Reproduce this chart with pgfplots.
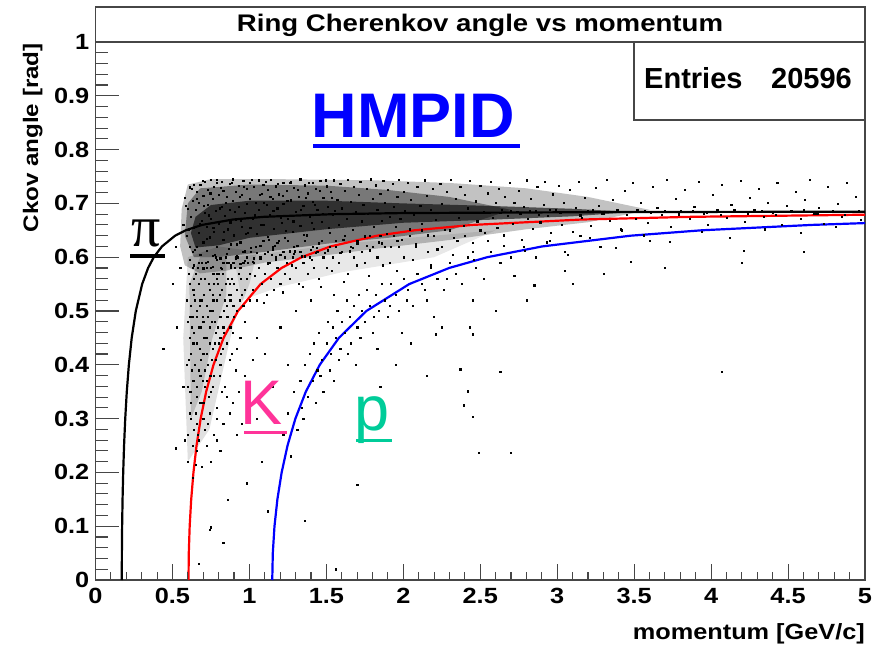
\documentclass[border=0pt]{standalone}
\usepackage{pgfplots}
\pgfplotsset{compat=1.18}
\usepackage{fontspec}
\setmainfont{Liberation Sans}
\newfontfamily\axfont[FakeStretch=1.15]{Liberation Sans}
\newfontfamily\seriffont{Liberation Serif}
\definecolor{kpink}{RGB}{255,51,153}
\definecolor{pteal}{RGB}{0,204,153}
\definecolor{framec}{RGB}{70,70,70}
\begin{document}
\begin{tikzpicture}
\path[use as bounding box] (0pt,0pt) rectangle (872pt,648pt);
\begin{axis}[
  at={(95.5pt,68pt)}, anchor=south west,
  scale only axis, width=769.5pt, height=538pt,
  xmin=0, xmax=5, ymin=0, ymax=1,
  axis line style={draw=framec, line width=1.3pt},
  tick align=inside, tick pos=left,
  xtick=\empty,
  ytick={0,0.1,0.2,0.3,0.4,0.5,0.6,0.7,0.8,0.9,1},
  minor y tick num=4,
  major tick length=23pt, minor tick length=12pt,
  tick style={draw=framec, line width=1.1pt},
  yticklabel style={font=\axfont\bfseries\fontsize{22}{26}\selectfont, inner sep=0pt, xshift=-6pt,
    /pgf/number format/.cd, fixed, precision=1, assume math mode=true},
  clip=true,
]
% density of the entries (shaded regions)
\addplot[fill=black, fill opacity=0.09, draw=none] coordinates {
 (0.90,0.60) (1.20,0.61) (1.60,0.625) (2.20,0.64) (2.60,0.65) (2.20,0.60) (1.60,0.572) (1.20,0.545) (0.95,0.52)} -- cycle;
\addplot[fill=black, fill opacity=0.12, draw=none] coordinates {
 (0.60,0.22) (0.57,0.45) (0.60,0.60) (0.80,0.62) (1.05,0.61) (1.00,0.55) (0.90,0.48) (0.82,0.38) (0.74,0.28)} -- cycle;
\addplot[fill=black, fill opacity=0.16, draw=none] coordinates {
 (0.62,0.30) (0.61,0.55) (0.68,0.60) (0.85,0.60) (0.85,0.53) (0.76,0.45) (0.69,0.35)} -- cycle;
\addplot[fill=black, fill opacity=0.24, draw=none] coordinates {
 (0.55,0.62) (0.56,0.69) (0.60,0.735) (0.75,0.745) (1.20,0.745) (1.80,0.743) (2.30,0.738) (2.80,0.728) (3.20,0.712) (3.60,0.688) (3.20,0.665) (2.80,0.652) (2.30,0.632) (1.80,0.615) (1.40,0.60) (1.10,0.59) (0.85,0.575) (0.68,0.57) (0.58,0.585)} -- cycle;
\addplot[fill=black, fill opacity=0.38, draw=none] coordinates {
 (0.58,0.64) (0.60,0.70) (0.68,0.728) (1.00,0.735) (1.50,0.733) (1.90,0.725) (2.30,0.712) (2.70,0.688) (2.30,0.650) (1.90,0.636) (1.50,0.625) (1.10,0.61) (0.80,0.60) (0.64,0.60)} -- cycle;
\addplot[fill=black, fill opacity=0.60, draw=none] coordinates {
 (0.62,0.645) (0.65,0.675) (0.75,0.697) (1.00,0.705) (1.50,0.705) (2.00,0.700) (2.60,0.695) (3.10,0.690) (3.50,0.684) (3.10,0.676) (2.60,0.670) (2.00,0.664) (1.50,0.652) (1.00,0.636) (0.80,0.622) (0.65,0.618)} -- cycle;
% scattered entries
\addplot[only marks, mark=square*, mark size=0.6pt, mark options={draw=none, fill=black}] table[row sep=\\] {
0.57 0.66\\ 0.58 0.71\\ 0.59 0.64\\ 0.60 0.69\\ 0.61 0.73\\ 0.61 0.62\\ 0.62 0.675\\ 0.63 0.705\\ 0.63 0.61\\ 0.64 0.735\\ 0.64 0.655\\ 0.65 0.688\\ 0.66 0.62\\ 0.66 0.722\\ 0.67 0.645\\ 0.67 0.701\\ 0.68 0.735\\ 0.68 0.605\\ 0.69 0.668\\ 0.70 0.715\\
0.70 0.628\\ 0.71 0.741\\ 0.71 0.683\\ 0.72 0.612\\ 0.72 0.656\\ 0.73 0.726\\ 0.73 0.697\\ 0.74 0.637\\ 0.75 0.744\\ 0.75 0.671\\ 0.76 0.603\\ 0.76 0.709\\ 0.77 0.648\\ 0.77 0.731\\ 0.78 0.686\\ 0.79 0.619\\ 0.79 0.739\\ 0.80 0.662\\ 0.80 0.716\\ 0.81 0.598\\
0.82 0.694\\ 0.82 0.741\\ 0.83 0.633\\ 0.83 0.724\\ 0.84 0.677\\ 0.85 0.607\\ 0.85 0.712\\ 0.86 0.652\\ 0.87 0.737\\ 0.87 0.688\\ 0.88 0.624\\ 0.89 0.705\\ 0.89 0.745\\ 0.90 0.641\\ 0.91 0.721\\ 0.91 0.669\\ 0.92 0.602\\ 0.93 0.733\\ 0.93 0.694\\ 0.94 0.628\\
0.95 0.716\\ 0.95 0.657\\ 0.96 0.742\\ 0.97 0.611\\ 0.97 0.683\\ 0.98 0.727\\ 0.99 0.646\\ 1.00 0.709\\ 1.00 0.739\\ 1.01 0.618\\ 1.02 0.672\\ 1.03 0.731\\ 1.03 0.598\\ 1.04 0.701\\ 1.05 0.644\\ 1.06 0.743\\ 1.06 0.689\\ 1.07 0.622\\ 1.08 0.718\\ 1.09 0.661\\
1.09 0.735\\ 1.10 0.606\\ 1.11 0.697\\ 1.12 0.726\\ 1.12 0.638\\ 1.13 0.679\\ 1.14 0.744\\ 1.15 0.615\\ 1.15 0.708\\ 1.16 0.653\\ 1.17 0.732\\ 1.18 0.691\\ 1.18 0.627\\ 1.19 0.717\\ 1.20 0.604\\ 1.21 0.664\\ 1.22 0.739\\ 1.22 0.699\\ 1.23 0.636\\ 1.24 0.724\\
1.25 0.672\\ 1.26 0.611\\ 1.27 0.741\\ 1.27 0.706\\ 1.28 0.648\\ 1.29 0.729\\ 1.30 0.684\\ 1.31 0.621\\ 1.32 0.713\\ 1.33 0.745\\ 1.33 0.658\\ 1.34 0.602\\ 1.35 0.695\\ 1.36 0.734\\ 1.37 0.641\\ 1.38 0.719\\ 1.39 0.676\\ 1.40 0.614\\ 1.41 0.738\\ 1.41 0.703\\
1.42 0.653\\ 1.43 0.727\\ 1.44 0.688\\ 1.45 0.626\\ 1.46 0.742\\ 1.47 0.666\\ 1.48 0.711\\ 1.49 0.608\\ 1.50 0.732\\ 1.51 0.694\\ 1.52 0.645\\ 1.53 0.721\\ 1.54 0.679\\ 1.55 0.743\\ 1.56 0.619\\ 1.57 0.707\\ 1.58 0.661\\ 1.59 0.736\\ 1.60 0.691\\ 1.61 0.632\\
1.62 0.723\\ 1.63 0.672\\ 1.64 0.744\\ 1.65 0.611\\ 1.66 0.703\\ 1.67 0.651\\ 1.68 0.731\\ 1.69 0.684\\ 1.70 0.626\\ 1.71 0.716\\ 1.72 0.741\\ 1.73 0.667\\ 1.74 0.698\\ 1.75 0.639\\ 1.76 0.728\\ 1.77 0.681\\ 1.78 0.613\\ 1.79 0.745\\ 1.80 0.709\\ 1.81 0.656\\
1.82 0.734\\ 1.83 0.689\\ 1.84 0.628\\ 1.85 0.718\\ 1.86 0.668\\ 1.87 0.742\\ 1.88 0.701\\ 1.89 0.644\\ 1.90 0.726\\ 1.91 0.676\\ 1.92 0.619\\ 1.93 0.737\\ 1.94 0.694\\ 1.95 0.657\\ 1.96 0.713\\ 1.97 0.744\\ 1.98 0.671\\ 1.99 0.633\\ 2.00 0.722\\ 2.01 0.686\\
2.03 0.739\\ 2.04 0.652\\ 2.05 0.707\\ 2.07 0.679\\ 2.08 0.624\\ 2.09 0.731\\ 2.11 0.696\\ 2.12 0.662\\ 2.14 0.743\\ 2.15 0.714\\ 2.16 0.641\\ 2.18 0.688\\ 2.19 0.727\\ 2.21 0.669\\ 2.22 0.615\\ 2.24 0.736\\ 2.25 0.699\\ 2.27 0.651\\ 2.28 0.721\\ 2.30 0.682\\
2.31 0.744\\ 2.33 0.636\\ 2.34 0.708\\ 2.36 0.673\\ 2.37 0.731\\ 2.39 0.658\\ 2.40 0.716\\ 2.42 0.691\\ 2.43 0.742\\ 2.45 0.627\\ 2.47 0.704\\ 2.48 0.667\\ 2.50 0.733\\ 2.52 0.685\\ 2.53 0.646\\ 2.55 0.719\\ 2.57 0.741\\ 2.58 0.674\\ 2.60 0.702\\
0.585 0.695\\ 0.605 0.652\\ 0.625 0.728\\ 0.645 0.614\\ 0.655 0.709\\ 0.675 0.663\\ 0.695 0.742\\ 0.705 0.695\\ 0.725 0.634\\ 0.735 0.678\\ 0.745 0.719\\ 0.765 0.655\\ 0.775 0.604\\ 0.785 0.744\\ 0.805 0.691\\ 0.815 0.729\\ 0.835 0.647\\ 0.845 0.702\\ 0.865 0.616\\ 0.875 0.665\\
0.885 0.738\\ 0.905 0.685\\ 0.915 0.624\\ 0.935 0.712\\ 0.945 0.668\\ 0.965 0.731\\ 0.975 0.643\\ 0.985 0.699\\ 1.005 0.655\\ 1.015 0.744\\ 1.035 0.678\\ 1.045 0.609\\ 1.065 0.716\\ 1.075 0.661\\ 1.095 0.702\\ 1.105 0.741\\ 1.125 0.633\\ 1.135 0.712\\ 1.155 0.686\\ 1.165 0.621\\
1.185 0.736\\ 1.205 0.674\\ 1.215 0.714\\ 1.235 0.649\\ 1.245 0.705\\ 1.265 0.738\\ 1.285 0.667\\ 1.295 0.611\\ 1.315 0.726\\ 1.335 0.688\\ 1.355 0.642\\ 1.365 0.711\\ 1.385 0.739\\ 1.405 0.664\\ 1.425 0.698\\ 1.435 0.618\\ 1.455 0.724\\ 1.475 0.681\\ 1.495 0.743\\ 1.515 0.655\\
1.535 0.711\\ 1.555 0.686\\
2.61 0.655\\ 2.62 0.728\\ 2.64 0.689\\ 2.65 0.641\\ 2.66 0.712\\ 2.68 0.677\\ 2.69 0.739\\ 2.71 0.662\\ 2.72 0.701\\ 2.74 0.684\\ 2.75 0.724\\ 2.77 0.632\\ 2.78 0.694\\ 2.80 0.743\\ 2.81 0.671\\ 2.83 0.709\\ 2.84 0.653\\ 2.86 0.686\\ 2.87 0.731\\ 2.89 0.665\\
2.91 0.698\\ 2.92 0.741\\ 2.94 0.677\\ 2.96 0.645\\ 2.97 0.717\\ 2.99 0.689\\ 3.01 0.733\\ 3.03 0.661\\ 3.04 0.702\\ 3.06 0.684\\ 3.08 0.726\\ 3.10 0.648\\ 3.12 0.692\\ 3.14 0.741\\ 3.16 0.674\\ 3.18 0.711\\ 3.20 0.686\\ 3.22 0.659\\ 3.25 0.729\\ 3.27 0.696\\
3.29 0.681\\ 3.32 0.744\\ 3.34 0.668\\ 3.36 0.707\\ 3.39 0.688\\ 3.41 0.652\\ 3.44 0.723\\ 3.46 0.684\\ 3.49 0.738\\ 3.51 0.671\\ 3.54 0.701\\ 3.57 0.686\\ 3.59 0.664\\ 3.62 0.731\\ 3.65 0.692\\ 3.68 0.679\\ 3.71 0.744\\ 3.74 0.657\\ 3.77 0.709\\ 3.80 0.687\\
3.83 0.726\\ 3.86 0.672\\ 3.89 0.694\\ 3.92 0.741\\ 3.95 0.681\\ 3.98 0.661\\ 4.01 0.716\\ 4.04 0.689\\ 4.07 0.735\\ 4.10 0.674\\ 4.13 0.698\\ 4.16 0.685\\ 4.19 0.742\\ 4.22 0.666\\ 4.25 0.711\\ 4.28 0.688\\ 4.31 0.727\\ 4.34 0.676\\ 4.37 0.702\\ 4.40 0.683\\
4.43 0.739\\ 4.46 0.661\\ 4.49 0.696\\ 4.52 0.686\\ 4.55 0.721\\ 4.58 0.671\\ 4.61 0.707\\ 4.64 0.744\\ 4.67 0.681\\ 4.70 0.692\\ 4.73 0.663\\ 4.76 0.731\\ 4.79 0.687\\ 4.82 0.699\\ 4.85 0.676\\ 4.88 0.738\\ 4.91 0.684\\ 4.94 0.712\\ 4.97 0.669\\
2.63 0.683\\ 2.70 0.687\\ 2.76 0.681\\ 2.82 0.686\\ 2.88 0.679\\ 2.95 0.688\\ 3.02 0.682\\ 3.09 0.685\\ 3.15 0.678\\ 3.23 0.689\\ 3.30 0.681\\ 3.37 0.684\\ 3.45 0.679\\ 3.52 0.688\\ 3.61 0.682\\ 3.70 0.686\\ 3.79 0.680\\ 3.88 0.687\\ 3.97 0.683\\ 4.06 0.679\\
4.15 0.688\\ 4.24 0.681\\ 4.33 0.686\\ 4.42 0.679\\ 4.51 0.684\\ 4.60 0.688\\ 4.69 0.681\\ 4.78 0.685\\ 4.87 0.679\\ 4.96 0.687\\
2.65 0.622\\ 2.79 0.612\\ 2.93 0.628\\ 3.07 0.605\\ 3.21 0.636\\ 3.38 0.618\\ 3.56 0.641\\ 3.73 0.629\\ 3.94 0.647\\ 4.12 0.636\\ 4.35 0.652\\ 4.58 0.645\\ 4.81 0.657\\ 3.05 0.575\\ 2.72 0.565\\ 3.48 0.592\\ 4.21 0.612\\ 2.85 0.548\\
0.60 0.48\\ 0.61 0.55\\ 0.62 0.42\\ 0.62 0.51\\ 0.63 0.58\\ 0.63 0.37\\ 0.64 0.46\\ 0.64 0.53\\ 0.65 0.31\\ 0.65 0.57\\ 0.66 0.44\\ 0.66 0.50\\ 0.67 0.39\\ 0.67 0.55\\ 0.68 0.47\\ 0.68 0.33\\ 0.69 0.52\\ 0.69 0.59\\ 0.70 0.42\\ 0.70 0.48\\
0.71 0.36\\ 0.71 0.56\\ 0.72 0.45\\ 0.72 0.51\\ 0.73 0.29\\ 0.73 0.40\\ 0.74 0.54\\ 0.74 0.47\\ 0.75 0.58\\ 0.75 0.35\\ 0.76 0.43\\ 0.76 0.50\\ 0.77 0.55\\ 0.77 0.38\\ 0.78 0.46\\ 0.78 0.60\\ 0.79 0.52\\ 0.79 0.32\\ 0.80 0.44\\ 0.80 0.57\\
0.81 0.49\\ 0.81 0.40\\ 0.82 0.54\\ 0.83 0.47\\ 0.83 0.59\\ 0.84 0.36\\ 0.84 0.52\\ 0.85 0.44\\ 0.86 0.56\\ 0.86 0.49\\ 0.87 0.41\\ 0.88 0.58\\ 0.88 0.53\\ 0.89 0.46\\ 0.90 0.55\\ 0.91 0.39\\ 0.91 0.60\\ 0.92 0.50\\ 0.93 0.57\\ 0.94 0.45\\
0.95 0.53\\ 0.96 0.59\\ 0.97 0.48\\ 0.98 0.56\\ 1.00 0.52\\ 0.605 0.41\\ 0.615 0.35\\ 0.625 0.47\\ 0.635 0.54\\ 0.645 0.40\\ 0.655 0.49\\ 0.665 0.27\\ 0.675 0.43\\ 0.685 0.56\\ 0.695 0.37\\ 0.705 0.53\\ 0.715 0.45\\ 0.725 0.58\\ 0.735 0.34\\ 0.745 0.50\\
0.755 0.41\\ 0.765 0.57\\ 0.775 0.48\\ 0.785 0.30\\ 0.795 0.55\\ 0.805 0.38\\ 0.815 0.58\\ 0.825 0.43\\ 0.835 0.50\\ 0.845 0.60\\ 0.855 0.34\\ 0.865 0.53\\ 0.875 0.47\\ 0.885 0.42\\ 0.895 0.59\\ 0.59 0.52\\ 0.60 0.36\\ 0.61 0.45\\ 0.62 0.30\\ 0.63 0.49\\
0.64 0.56\\ 0.66 0.34\\ 0.67 0.47\\ 0.68 0.52\\ 0.70 0.58\\ 0.71 0.39\\ 0.73 0.49\\ 0.74 0.44\\ 0.76 0.53\\ 0.78 0.41\\ 0.79 0.57\\ 0.81 0.45\\ 0.82 0.35\\ 0.85 0.51\\ 0.87 0.55\\ 0.90 0.49\\ 0.92 0.43\\ 0.94 0.58\\ 0.97 0.54\\ 0.99 0.59\\
0.58 0.26\\ 0.60 0.22\\ 0.63 0.19\\ 0.66 0.24\\ 0.69 0.21\\ 0.72 0.25\\ 0.75 0.22\\ 0.79 0.26\\ 0.83 0.29\\ 0.87 0.31\\ 0.93 0.35\\ 0.97 0.38\\ 1.02 0.41\\ 0.64 0.28\\ 0.70 0.30\\ 0.77 0.27\\ 0.61 0.31\\ 0.89 0.33\\ 0.95 0.29\\ 0.81 0.24\\
0.605 0.57\\ 0.615 0.49\\ 0.625 0.39\\ 0.635 0.44\\ 0.645 0.52\\ 0.655 0.36\\ 0.665 0.58\\ 0.675 0.51\\ 0.685 0.41\\ 0.695 0.49\\ 0.705 0.45\\ 0.715 0.59\\ 0.725 0.42\\ 0.735 0.55\\ 0.745 0.38\\ 0.755 0.48\\ 0.765 0.52\\ 0.775 0.44\\ 0.785 0.56\\ 0.795 0.47\\
0.805 0.53\\ 0.815 0.42\\ 0.825 0.57\\ 0.835 0.46\\ 0.845 0.55\\ 0.855 0.49\\ 0.865 0.59\\ 0.875 0.52\\ 0.885 0.56\\ 0.895 0.51\\ 0.905 0.58\\ 0.915 0.54\\ 0.925 0.60\\ 0.935 0.52\\ 0.945 0.56\\ 0.955 0.61\\ 0.62 0.33\\ 0.64 0.37\\ 0.66 0.29\\ 0.68 0.38\\
0.70 0.33\\ 0.72 0.37\\ 0.74 0.31\\ 0.76 0.36\\ 0.63 0.25\\ 0.67 0.26\\ 0.71 0.28\\ 0.65 0.215\\ 0.60 0.27\\ 0.59 0.40\\
0.61 0.595\\ 0.64 0.585\\ 0.67 0.59\\ 0.70 0.578\\ 0.73 0.592\\ 0.76 0.583\\ 0.79 0.596\\ 0.82 0.579\\ 0.85 0.59\\ 0.88 0.585\\ 0.91 0.597\\ 0.94 0.588\\ 0.97 0.594\\ 1.02 0.592\\ 1.07 0.597\\ 1.12 0.589\\ 1.17 0.595\\ 1.23 0.60\\ 1.29 0.606\\ 1.36 0.602\\
1.43 0.608\\ 1.51 0.613\\ 1.59 0.609\\ 1.67 0.617\\ 1.76 0.622\\ 1.86 0.626\\ 1.96 0.63\\
1.00 0.57\\ 1.01 0.61\\ 1.02 0.54\\ 1.03 0.59\\ 1.04 0.62\\ 1.05 0.52\\ 1.06 0.58\\ 1.07 0.60\\ 1.08 0.55\\ 1.09 0.63\\ 1.10 0.57\\ 1.11 0.53\\ 1.12 0.61\\ 1.13 0.59\\ 1.14 0.56\\ 1.15 0.62\\ 1.16 0.54\\ 1.17 0.60\\ 1.18 0.58\\ 1.19 0.63\\
1.20 0.55\\ 1.22 0.61\\ 1.23 0.57\\ 1.24 0.59\\ 1.25 0.63\\ 1.26 0.56\\ 1.28 0.60\\ 1.29 0.62\\ 1.30 0.58\\ 1.32 0.55\\ 1.33 0.61\\ 1.35 0.59\\ 1.36 0.63\\ 1.38 0.57\\ 1.39 0.60\\ 1.41 0.62\\ 1.42 0.58\\ 1.44 0.61\\ 1.45 0.56\\ 1.47 0.63\\
1.48 0.60\\ 1.50 0.58\\ 1.52 0.62\\ 1.54 0.60\\ 1.56 0.63\\ 1.58 0.59\\ 1.60 0.61\\ 1.62 0.64\\ 1.64 0.57\\ 1.66 0.62\\ 1.68 0.60\\ 1.70 0.63\\ 1.73 0.61\\ 1.75 0.59\\ 1.78 0.64\\ 1.80 0.62\\ 1.83 0.60\\ 1.85 0.64\\ 1.88 0.62\\ 1.91 0.59\\
1.94 0.64\\ 1.97 0.62\\ 2.00 0.60\\ 2.04 0.64\\ 2.08 0.62\\ 2.12 0.65\\ 2.16 0.61\\ 2.20 0.64\\ 2.25 0.62\\ 2.30 0.65\\ 2.35 0.63\\ 2.40 0.64\\ 2.45 0.61\\ 2.50 0.65\\ 2.55 0.63\\ 0.96 0.51\\ 0.98 0.60\\ 1.035 0.565\\ 1.095 0.515\\ 1.145 0.605\\
1.215 0.535\\ 1.275 0.585\\ 1.345 0.545\\ 1.405 0.595\\ 1.465 0.545\\ 1.535 0.575\\ 1.615 0.555\\ 1.695 0.585\\ 1.775 0.565\\ 1.865 0.585\\ 1.955 0.575\\ 2.06 0.595\\ 2.18 0.585\\ 2.32 0.605\\ 2.46 0.595\\
1.22 0.27\\ 1.25 0.31\\ 1.27 0.23\\ 1.29 0.35\\ 1.31 0.28\\ 1.33 0.37\\ 1.34 0.32\\ 1.36 0.40\\ 1.38 0.34\\ 1.39 0.42\\ 1.41 0.37\\ 1.42 0.44\\ 1.44 0.39\\ 1.45 0.46\\ 1.47 0.41\\ 1.48 0.35\\ 1.50 0.44\\ 1.51 0.48\\ 1.53 0.42\\ 1.54 0.47\\
1.56 0.45\\ 1.57 0.50\\ 1.59 0.43\\ 1.60 0.48\\ 1.62 0.46\\ 1.63 0.52\\ 1.65 0.49\\ 1.66 0.44\\ 1.68 0.51\\ 1.70 0.47\\ 1.71 0.53\\ 1.73 0.50\\ 1.75 0.48\\ 1.76 0.54\\ 1.78 0.51\\ 1.80 0.46\\ 1.82 0.53\\ 1.84 0.50\\ 1.86 0.55\\ 1.88 0.52\\
1.90 0.49\\ 1.92 0.55\\ 1.95 0.53\\ 1.97 0.50\\ 2.00 0.56\\ 2.03 0.54\\ 2.06 0.51\\ 2.09 0.57\\ 2.12 0.55\\ 2.15 0.52\\ 2.18 0.58\\ 2.22 0.56\\ 2.26 0.54\\ 2.30 0.59\\ 2.34 0.57\\ 2.38 0.55\\ 2.42 0.60\\ 2.47 0.58\\ 2.52 0.56\\ 2.57 0.61\\
2.63 0.59\\ 2.70 0.60\\ 2.78 0.62\\ 2.86 0.60\\ 2.95 0.63\\ 3.05 0.61\\ 3.15 0.64\\ 3.28 0.62\\ 3.42 0.65\\ 3.60 0.63\\ 1.46 0.38\\ 1.52 0.39\\ 1.58 0.41\\ 1.64 0.42\\ 1.72 0.45\\ 1.81 0.49\\ 1.91 0.51\\ 2.02 0.52\\ 2.14 0.54\\ 2.28 0.56\\
1.35 0.30\\ 1.43 0.33\\ 1.55 0.37\\ 1.69 0.40\\ 1.83 0.43\\ 1.99 0.46\\ 2.20 0.49\\ 2.45 0.52\\
0.44 0.43\\ 0.52 0.245\\ 0.57 0.36\\ 0.75 0.098\\ 0.74 0.093\\ 1.12 0.128\\ 1.70 0.177\\ 0.86 0.149\\ 1.56 0.02\\ 2.37 0.392\\ 2.63 0.387\\ 4.07 0.387\\ 2.42 0.351\\ 2.39 0.325\\ 2.45 0.303\\ 2.49 0.236\\ 2.70 0.236\\ 2.21 0.457\\ 2.25 0.47\\ 2.43 0.47\\
2.45 0.457\\ 0.53 0.47\\ 0.50 0.55\\ 0.55 0.58\\ 0.52 0.62\\ 1.05 0.30\\ 1.10 0.42\\ 1.15 0.36\\ 1.20 0.47\\ 1.25 0.40\\ 1.08 0.22\\ 0.98 0.18\\ 1.30 0.50\\ 1.40 0.52\\ 1.55 0.53\\ 1.05 0.45\\ 0.92 0.27\\ 1.95 0.40\\ 2.05 0.44\\ 2.15 0.38\\
1.85 0.36\\ 2.60 0.50\\ 2.80 0.52\\ 3.10 0.55\\ 3.30 0.57\\ 3.70 0.58\\ 4.20 0.59\\ 4.60 0.61\\ 0.83 0.07\\ 1.36 0.11\\ 0.67 0.03\\ 0.90 0.01\\
};
% expected Cherenkov angle curves
\addplot[black, line width=2.2pt] coordinates {
 (0.17084,0) (0.17137,0.05) (0.17300,0.1) (0.17581,0.15) (0.17994,0.2) (0.18562,0.25) (0.19321,0.3) (0.20328,0.35) (0.21676,0.4) (0.23525,0.45) (0.26181,0.5) (0.30320,0.55) (0.34187,0.58) (0.37870,0.6) (0.43172,0.62) (0.51739,0.64) (0.58589,0.65) (0.69234,0.66) (0.89266,0.67) (1.09253,0.675) (1.54346,0.68) (1.9910,0.682) (3.4348,0.684) (5,0.6845)};
\addplot[red, line width=2.2pt] coordinates {
 (0.60427,0) (0.60617,0.05) (0.61194,0.1) (0.62187,0.15) (0.63647,0.2) (0.65656,0.25) (0.68341,0.3) (0.71904,0.35) (0.76671,0.4) (0.83212,0.45) (0.92605,0.5) (1.07245,0.55) (1.20926,0.58) (1.33949,0.6) (1.52703,0.62) (1.83008,0.64) (2.07236,0.65) (2.44892,0.66) (3.15749,0.67) (3.86442,0.675) (5,0.679)};
\addplot[blue, line width=2.2pt] coordinates {
 (1.14846,0) (1.15207,0.05) (1.16303,0.1) (1.18191,0.15) (1.20965,0.2) (1.24783,0.25) (1.29886,0.3) (1.36658,0.35) (1.45719,0.4) (1.58150,0.45) (1.76003,0.5) (2.03825,0.55) (2.29828,0.58) (2.54578,0.6) (2.90222,0.62) (3.47818,0.64) (3.93866,0.65) (4.65433,0.66) (5,0.6634)};
\end{axis}
\begin{axis}[
  at={(95.5pt,68pt)}, anchor=south west,
  scale only axis, width=769.5pt, height=538pt,
  xmin=0, xmax=5, ymin=0, ymax=1,
  axis line style={draw=none},
  tick align=inside, tick pos=left,
  ytick=\empty,
  xtick={0,0.5,1,1.5,2,2.5,3,3.5,4,4.5,5},
  minor x tick num=4,
  major tick length=16pt, minor tick length=8pt,
  tick style={draw=framec, line width=1.1pt},
  xticklabel style={font=\axfont\bfseries\fontsize{22}{26}\selectfont, inner sep=0pt, yshift=-8pt,
    /pgf/number format/.cd, assume math mode=true},
]
\addplot[draw=none] coordinates {(0,0)};
\end{axis}
% title box
\draw[framec, line width=1.3pt] (95.5pt,606pt) rectangle (865pt,641pt);
\node[anchor=base, inner sep=0pt] at (480pt,616pt) {\axfont\bfseries\fontsize{24}{28}\selectfont Ring Cherenkov angle vs momentum};
% stats box
\draw[framec, line width=1.3pt, fill=white] (634pt,528pt) rectangle (865pt,606pt);
\node[anchor=base west, inner sep=0pt] at (644pt,559pt) {\bfseries\fontsize{29}{34}\selectfont Entries};
\node[anchor=base east, inner sep=0pt] at (852pt,559pt) {\bfseries\fontsize{29}{34}\selectfont 20596};
% axis titles
\node[anchor=base east, inner sep=0pt] at (865pt,9pt) {\axfont\bfseries\fontsize{22}{26}\selectfont momentum [GeV/c]};
\node[anchor=base east, inner sep=0pt, rotate=90] at (38pt,605pt) {\axfont\bfseries\fontsize{21}{25}\selectfont Ckov angle [rad]};
% annotations
\node[anchor=base west, inner sep=0pt, text=blue] at (311.5pt,510pt) {\bfseries\fontsize{63}{70}\selectfont HMPID};
\draw[blue, line width=3.5pt] (313pt,502pt) -- (520pt,502pt);
\node[anchor=base west, inner sep=0pt, text=kpink] at (240pt,223pt) {\fontsize{63}{70}\selectfont K};
\draw[kpink, line width=3pt] (244pt,215pt) -- (287pt,215pt);
\node[anchor=base west, inner sep=0pt, text=pteal] at (354pt,217pt) {\fontsize{63}{70}\selectfont p};
\draw[pteal, line width=3pt] (356pt,207pt) -- (392pt,207pt);
\node[anchor=base west, inner sep=0pt] at (131pt,401pt) {\seriffont\fontsize{58}{64}\selectfont π};
\draw[black, line width=3.5pt] (130pt,392pt) -- (165pt,392pt);
\end{tikzpicture}
\end{document}
